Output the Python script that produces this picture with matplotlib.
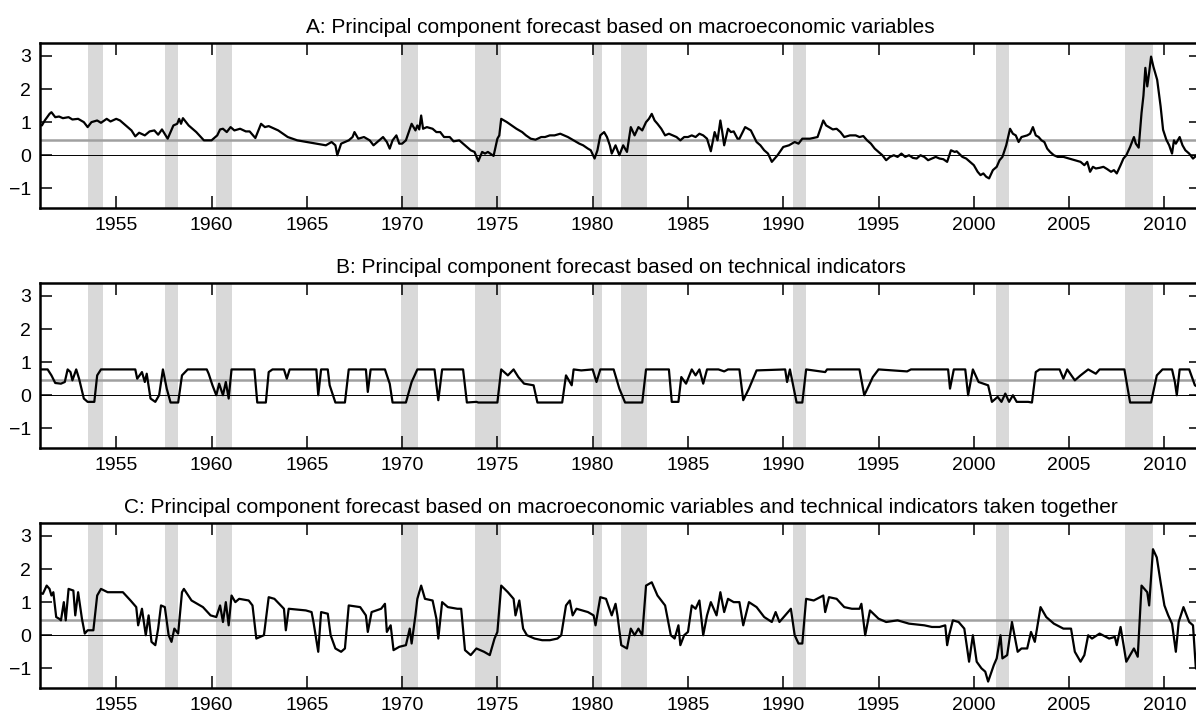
import numpy as np
import matplotlib.pyplot as plt

plt.rcParams['font.family'] = ['Liberation Sans', 'DejaVu Sans']

titles = [
    'A: Principal component forecast based on macroeconomic variables',
    'B: Principal component forecast based on technical indicators',
    'C: Principal component forecast based on macroeconomic variables and technical indicators taken together',
]

# NBER recessions (start, end) in decimal years
recessions = [(1953.5, 1954.33), (1957.58, 1958.25), (1960.25, 1961.08),
              (1969.92, 1970.83), (1973.83, 1975.17), (1980.0, 1980.5),
              (1981.5, 1982.83), (1990.5, 1991.17), (2001.17, 2001.83),
              (2007.92, 2009.42)]

hist_mean = 0.46

# Panel A: macroeconomic variables (year, forecast)
macro = [
    (1951.0, 0.92), (1951.1, 0.9), (1951.25, 1.05), (1951.5, 1.25), (1951.6, 1.3),
    (1951.8, 1.15), (1952.0, 1.17), (1952.2, 1.12), (1952.5, 1.15), (1952.7, 1.08),
    (1953.0, 1.1), (1953.3, 1.0), (1953.5, 0.85), (1953.7, 1.0), (1954.0, 1.05),
    (1954.2, 0.98), (1954.5, 1.1), (1954.7, 1.02), (1955.0, 1.1), (1955.2, 1.05),
    (1955.4, 0.95), (1955.6, 0.85), (1955.8, 0.75), (1956.0, 0.57), (1956.2, 0.68),
    (1956.5, 0.6), (1956.75, 0.72), (1957.0, 0.75), (1957.2, 0.62), (1957.4, 0.78),
    (1957.7, 0.5), (1958.0, 0.9), (1958.2, 0.95), (1958.3, 1.1), (1958.4, 0.95),
    (1958.5, 1.12), (1958.8, 0.9), (1959.2, 0.7), (1959.6, 0.45), (1960.0, 0.45),
    (1960.3, 0.6), (1960.45, 0.78), (1960.6, 0.8), (1960.8, 0.7), (1961.0, 0.85),
    (1961.2, 0.75), (1961.5, 0.8), (1961.8, 0.72), (1962.0, 0.72), (1962.3, 0.52),
    (1962.6, 0.95), (1962.8, 0.85), (1963.0, 0.88), (1963.5, 0.75), (1964.0, 0.55),
    (1964.5, 0.45), (1965.0, 0.4), (1965.5, 0.35), (1966.0, 0.3), (1966.3, 0.4),
    (1966.5, 0.3), (1966.6, 0.0), (1966.8, 0.35), (1967.0, 0.4), (1967.2, 0.45),
    (1967.4, 0.55), (1967.5, 0.7), (1967.7, 0.5), (1968.0, 0.55), (1968.3, 0.45),
    (1968.5, 0.3), (1968.8, 0.45), (1969.0, 0.55), (1969.2, 0.4), (1969.35, 0.2),
    (1969.5, 0.45), (1969.7, 0.6), (1969.85, 0.35), (1970.0, 0.35), (1970.2, 0.45),
    (1970.3, 0.62), (1970.5, 0.95), (1970.7, 0.75), (1970.8, 0.9), (1970.9, 0.78),
    (1971.0, 1.2), (1971.1, 0.8), (1971.3, 0.85), (1971.6, 0.8), (1971.8, 0.7),
    (1972.0, 0.7), (1972.2, 0.55), (1972.5, 0.55), (1972.7, 0.42), (1973.0, 0.45),
    (1973.3, 0.3), (1973.6, 0.15), (1973.8, 0.1), (1974.0, -0.18), (1974.2, 0.1),
    (1974.35, 0.05), (1974.5, 0.1), (1974.8, -0.02), (1975.0, 0.5), (1975.1, 0.6),
    (1975.2, 1.1), (1975.35, 1.05), (1975.5, 1.0), (1975.75, 0.9), (1976.0, 0.8),
    (1976.3, 0.7), (1976.5, 0.6), (1976.75, 0.5), (1977.0, 0.47), (1977.3, 0.55),
    (1977.5, 0.55), (1977.75, 0.6), (1978.0, 0.6), (1978.3, 0.65), (1978.5, 0.6),
    (1978.7, 0.55), (1979.0, 0.45), (1979.3, 0.35), (1979.5, 0.3), (1979.75, 0.2),
    (1979.9, 0.15), (1980.1, -0.1), (1980.25, 0.15), (1980.4, 0.6), (1980.6, 0.7),
    (1980.75, 0.55), (1980.9, 0.3), (1981.0, 0.05), (1981.2, 0.3), (1981.4, 0.0),
    (1981.6, 0.3), (1981.8, 0.1), (1982.0, 0.85), (1982.2, 0.6), (1982.4, 0.85),
    (1982.6, 0.75), (1982.8, 1.0), (1982.95, 1.1), (1983.1, 1.25), (1983.25, 1.05),
    (1983.4, 0.95), (1983.6, 0.8), (1983.8, 0.6), (1984.0, 0.65), (1984.2, 0.6),
    (1984.4, 0.55), (1984.6, 0.45), (1984.8, 0.55), (1985.0, 0.55), (1985.2, 0.6),
    (1985.4, 0.55), (1985.6, 0.65), (1985.8, 0.6), (1986.0, 0.5), (1986.2, 0.12),
    (1986.4, 0.7), (1986.55, 0.45), (1986.7, 1.05), (1986.8, 0.7), (1986.9, 0.3),
    (1987.1, 0.8), (1987.25, 0.7), (1987.4, 0.72), (1987.6, 0.5), (1987.7, 0.5),
    (1988.0, 0.85), (1988.3, 0.75), (1988.6, 0.4), (1988.8, 0.3), (1989.0, 0.15),
    (1989.2, 0.05), (1989.4, -0.2), (1989.7, 0.0), (1990.0, 0.25), (1990.3, 0.3),
    (1990.6, 0.4), (1990.8, 0.35), (1991.0, 0.5), (1991.4, 0.5), (1991.8, 0.55),
    (1992.1, 1.05), (1992.25, 0.9), (1992.4, 0.85), (1992.6, 0.78), (1992.8, 0.8),
    (1993.0, 0.7), (1993.2, 0.55), (1993.5, 0.6), (1993.8, 0.6), (1994.0, 0.55),
    (1994.2, 0.58), (1994.4, 0.45), (1994.6, 0.35), (1994.8, 0.2), (1995.0, 0.1),
    (1995.2, 0.0), (1995.4, -0.15), (1995.6, -0.05), (1995.8, 0.0), (1996.0, -0.05),
    (1996.2, 0.05), (1996.4, -0.05), (1996.6, 0.0), (1996.8, -0.08), (1997.0, -0.1),
    (1997.2, 0.0), (1997.4, -0.05), (1997.6, -0.15), (1997.8, -0.1), (1998.0, -0.05),
    (1998.2, -0.1), (1998.4, -0.12), (1998.6, -0.2), (1998.8, 0.15), (1999.0, 0.1),
    (1999.1, 0.12), (1999.4, -0.05), (1999.6, -0.1), (1999.8, -0.2), (2000.0, -0.3),
    (2000.2, -0.5), (2000.35, -0.6), (2000.5, -0.55), (2000.65, -0.65), (2000.8, -0.7),
    (2001.0, -0.45), (2001.2, -0.35), (2001.35, -0.15), (2001.5, -0.05), (2001.7, 0.3),
    (2001.9, 0.8), (2002.05, 0.65), (2002.2, 0.6), (2002.35, 0.4), (2002.5, 0.55),
    (2002.8, 0.6), (2002.95, 0.65), (2003.1, 0.85), (2003.25, 0.6), (2003.4, 0.55),
    (2003.55, 0.45), (2003.7, 0.4), (2003.85, 0.2), (2004.0, 0.1), (2004.2, 0.0),
    (2004.4, -0.05), (2004.7, -0.05), (2005.0, -0.1), (2005.3, -0.15), (2005.6, -0.2),
    (2005.8, -0.3), (2005.95, -0.2), (2006.1, -0.5), (2006.25, -0.35), (2006.4, -0.4),
    (2006.6, -0.38), (2006.8, -0.35), (2007.0, -0.42), (2007.2, -0.5), (2007.35, -0.45),
    (2007.5, -0.55), (2007.7, -0.3), (2007.85, -0.1), (2008.0, 0.0), (2008.2, 0.25),
    (2008.4, 0.55), (2008.5, 0.35), (2008.65, 0.23), (2008.8, 1.28), (2008.9, 1.8),
    (2009.0, 2.64), (2009.1, 2.08), (2009.2, 2.5), (2009.3, 2.98), (2009.42, 2.68),
    (2009.62, 2.28), (2009.8, 1.48), (2009.93, 0.77), (2010.1, 0.47), (2010.25, 0.3),
    (2010.4, 0.05), (2010.5, 0.45), (2010.6, 0.35), (2010.8, 0.55), (2010.95, 0.3),
    (2011.1, 0.15), (2011.3, 0.05), (2011.5, -0.1), (2011.7, 0.0), (2011.92, -0.18),
]

# Panel B: technical indicators
technical = [
    (1951.0, 0.78), (1951.4, 0.78), (1951.6, 0.6), (1951.8, 0.37), (1952.1, 0.35),
    (1952.3, 0.4), (1952.45, 0.78), (1952.6, 0.7), (1952.7, 0.45), (1952.9, 0.78),
    (1953.05, 0.5), (1953.3, -0.1), (1953.5, -0.2), (1953.85, -0.2), (1954.0, 0.6),
    (1954.2, 0.78), (1956.0, 0.78), (1956.1, 0.5), (1956.35, 0.7), (1956.5, 0.4),
    (1956.6, 0.65), (1956.8, -0.1), (1957.05, -0.2), (1957.25, 0.0), (1957.45, 0.78),
    (1957.65, 0.2), (1957.85, -0.22), (1958.25, -0.22), (1958.45, 0.6), (1958.75, 0.78),
    (1959.75, 0.78), (1959.85, 0.65), (1960.05, 0.3), (1960.25, 0.0), (1960.4, 0.35),
    (1960.6, 0.0), (1960.75, 0.4), (1960.9, -0.1), (1961.05, 0.78), (1962.25, 0.78),
    (1962.4, -0.22), (1962.85, -0.22), (1963.0, 0.7), (1963.2, 0.78), (1963.8, 0.78),
    (1963.95, 0.5), (1964.1, 0.78), (1965.5, 0.78), (1965.6, 0.0), (1965.75, 0.78),
    (1966.1, 0.78), (1966.2, 0.3), (1966.5, -0.22), (1967.0, -0.22), (1967.2, 0.78),
    (1968.1, 0.78), (1968.2, 0.1), (1968.35, 0.78), (1969.1, 0.78), (1969.35, 0.35),
    (1969.5, -0.22), (1970.2, -0.22), (1970.5, 0.4), (1970.8, 0.78), (1971.7, 0.78),
    (1971.9, -0.15), (1972.1, 0.78), (1973.2, 0.78), (1973.4, -0.22), (1973.9, -0.2),
    (1974.0, -0.22), (1975.0, -0.22), (1975.2, 0.78), (1975.55, 0.6), (1975.85, 0.78),
    (1976.1, 0.55), (1976.4, 0.35), (1976.9, 0.3), (1977.1, -0.22), (1978.4, -0.22),
    (1978.6, 0.6), (1978.9, 0.3), (1979.0, 0.78), (1979.4, 0.75), (1980.0, 0.78),
    (1980.2, 0.4), (1980.4, 0.78), (1981.1, 0.78), (1981.4, 0.2), (1981.7, -0.22),
    (1982.6, -0.22), (1982.8, 0.78), (1984.0, 0.78), (1984.15, -0.2), (1984.5, -0.2),
    (1984.65, 0.55), (1984.9, 0.35), (1985.2, 0.78), (1985.4, 0.6), (1985.6, 0.78),
    (1985.8, 0.35), (1986.0, 0.78), (1986.6, 0.78), (1986.9, 0.72), (1987.1, 0.78),
    (1987.7, 0.78), (1987.9, -0.15), (1988.2, 0.2), (1988.6, 0.75), (1990.1, 0.78),
    (1990.2, 0.4), (1990.35, 0.78), (1990.7, -0.22), (1991.0, -0.22), (1991.2, 0.78),
    (1992.2, 0.7), (1992.3, 0.78), (1994.0, 0.78), (1994.25, 0.0), (1994.5, 0.3),
    (1994.7, 0.55), (1995.0, 0.78), (1996.5, 0.72), (1996.7, 0.78), (1998.65, 0.78),
    (1998.75, 0.2), (1998.95, 0.78), (1999.55, 0.78), (1999.7, 0.0), (1999.95, 0.78),
    (2000.25, 0.4), (2000.75, 0.3), (2000.95, -0.2), (2001.25, -0.05), (2001.45, -0.2),
    (2001.65, 0.05), (2001.85, -0.2), (2002.05, 0.0), (2002.25, -0.2), (2002.85, -0.2),
    (2003.05, -0.22), (2003.25, 0.7), (2003.45, 0.78), (2004.5, 0.78), (2004.7, 0.5),
    (2004.9, 0.78), (2005.3, 0.45), (2005.6, 0.6), (2006.0, 0.78), (2006.4, 0.65),
    (2006.6, 0.78), (2007.9, 0.78), (2008.2, -0.22), (2009.3, -0.22), (2009.6, 0.6),
    (2009.9, 0.78), (2010.4, 0.78), (2010.55, 0.4), (2010.65, 0.0), (2010.8, 0.78),
    (2011.3, 0.78), (2011.6, 0.3), (2011.92, 0.2),
]

# Panel C: both sets taken together
combined = [
    (1951.0, 1.28), (1951.15, 1.25), (1951.35, 1.5), (1951.5, 1.4), (1951.6, 1.2),
    (1951.7, 1.3), (1951.85, 0.55), (1952.0, 0.5), (1952.1, 0.45), (1952.25, 1.0),
    (1952.35, 0.45), (1952.5, 1.4), (1952.75, 1.35), (1952.85, 0.6), (1953.0, 1.3),
    (1953.1, 0.9), (1953.2, 0.5), (1953.35, 0.05), (1953.5, 0.15), (1953.8, 0.15),
    (1954.0, 1.2), (1954.2, 1.4), (1954.55, 1.3), (1955.0, 1.3), (1955.35, 1.3),
    (1955.75, 1.05), (1956.05, 0.85), (1956.15, 0.3), (1956.35, 0.8), (1956.55, 0.0),
    (1956.7, 0.6), (1956.85, -0.2), (1957.05, -0.3), (1957.2, 0.2), (1957.35, 0.9),
    (1957.55, 0.85), (1957.75, 0.0), (1957.9, -0.2), (1958.05, 0.2), (1958.25, 0.05),
    (1958.45, 1.3), (1958.55, 1.4), (1958.95, 1.05), (1959.55, 0.85), (1959.95, 0.6),
    (1960.25, 0.55), (1960.45, 0.9), (1960.6, 0.4), (1960.75, 1.0), (1960.9, 0.3),
    (1961.05, 1.2), (1961.25, 1.0), (1961.45, 1.1), (1961.95, 1.05), (1962.15, 0.9),
    (1962.35, -0.1), (1962.75, 0.0), (1963.0, 1.15), (1963.3, 1.1), (1963.8, 0.8),
    (1963.9, 0.15), (1964.05, 0.8), (1964.95, 0.75), (1965.25, 0.7), (1965.35, 0.4),
    (1965.6, -0.5), (1965.75, 0.7), (1966.1, 0.65), (1966.25, 0.0), (1966.5, -0.4),
    (1966.8, -0.5), (1967.0, -0.4), (1967.2, 0.9), (1967.8, 0.85), (1968.1, 0.6),
    (1968.2, 0.1), (1968.4, 0.7), (1968.9, 0.8), (1969.1, 0.95), (1969.2, 0.1),
    (1969.4, 0.3), (1969.55, -0.45), (1969.85, -0.35), (1970.2, -0.3), (1970.4, 0.2),
    (1970.5, -0.25), (1970.7, 0.6), (1970.8, 1.1), (1971.0, 1.5), (1971.2, 1.1),
    (1971.6, 1.05), (1971.8, 0.5), (1971.9, -0.1), (1972.1, 1.0), (1972.4, 0.85),
    (1972.9, 0.8), (1973.1, 0.8), (1973.3, -0.45), (1973.6, -0.6), (1973.9, -0.4),
    (1974.3, -0.5), (1974.6, -0.6), (1974.85, -0.1), (1975.0, 0.1), (1975.2, 1.5),
    (1975.55, 1.3), (1975.85, 1.1), (1975.95, 0.6), (1976.15, 1.05), (1976.35, 0.2),
    (1976.55, 0.0), (1976.95, -0.1), (1977.35, -0.15), (1977.75, -0.15), (1978.15, -0.1),
    (1978.35, 0.0), (1978.6, 0.9), (1978.8, 1.05), (1978.95, 0.6), (1979.15, 0.8),
    (1979.75, 0.7), (1980.05, 0.6), (1980.15, 0.3), (1980.4, 1.15), (1980.7, 1.1),
    (1981.0, 0.6), (1981.2, 0.95), (1981.3, 0.6), (1981.5, -0.3), (1981.8, -0.4),
    (1982.0, 0.2), (1982.2, 0.0), (1982.4, 0.2), (1982.6, 0.0), (1982.8, 1.5),
    (1983.1, 1.6), (1983.4, 1.2), (1983.8, 0.9), (1984.1, 0.0), (1984.3, -0.1),
    (1984.5, 0.3), (1984.6, -0.3), (1984.8, 0.0), (1985.0, 0.1), (1985.2, 0.9),
    (1985.4, 0.8), (1985.6, 1.05), (1985.8, 0.0), (1986.0, 0.6), (1986.2, 1.0),
    (1986.5, 0.6), (1986.7, 1.3), (1986.9, 0.7), (1987.1, 1.1), (1987.4, 1.0),
    (1987.7, 1.0), (1987.9, 0.3), (1988.2, 1.0), (1988.6, 0.85), (1989.0, 0.55),
    (1989.4, 0.4), (1989.6, 0.7), (1989.8, 0.4), (1990.1, 0.6), (1990.4, 0.8),
    (1990.6, 0.0), (1990.8, -0.25), (1991.0, -0.25), (1991.2, 1.1), (1991.6, 1.05),
    (1992.1, 1.2), (1992.2, 0.7), (1992.4, 1.15), (1992.8, 1.1), (1993.2, 0.85),
    (1993.6, 0.8), (1994.0, 0.8), (1994.1, 0.95), (1994.3, 0.0), (1994.55, 0.75),
    (1995.0, 0.5), (1995.4, 0.4), (1996.0, 0.45), (1996.6, 0.35), (1997.4, 0.3),
    (1997.8, 0.25), (1998.2, 0.25), (1998.5, 0.3), (1998.6, -0.3), (1998.7, 0.0),
    (1998.9, 0.45), (1999.2, 0.4), (1999.5, 0.2), (1999.75, -0.8), (1999.95, 0.0),
    (2000.15, -0.8), (2000.4, -1.0), (2000.6, -1.1), (2000.75, -1.4), (2001.05, -0.9),
    (2001.2, -0.7), (2001.4, 0.0), (2001.5, -0.7), (2001.75, -0.6), (2002.0, 0.4),
    (2002.3, -0.5), (2002.5, -0.4), (2002.8, -0.4), (2003.0, 0.1), (2003.2, -0.2),
    (2003.5, 0.85), (2003.8, 0.55), (2004.2, 0.35), (2004.7, 0.2), (2005.1, 0.2),
    (2005.3, -0.5), (2005.6, -0.8), (2005.8, -0.6), (2006.0, 0.0), (2006.2, -0.1),
    (2006.6, 0.05), (2007.1, -0.1), (2007.4, -0.05), (2007.5, -0.3), (2007.7, 0.25),
    (2008.0, -0.8), (2008.2, -0.6), (2008.4, -0.4), (2008.6, -0.65), (2008.8, 1.5),
    (2009.1, 1.3), (2009.2, 0.9), (2009.4, 2.6), (2009.6, 2.35), (2009.8, 1.6),
    (2010.0, 0.9), (2010.2, 0.6), (2010.4, 0.35), (2010.6, -0.5), (2010.75, 0.4),
    (2011.0, 0.85), (2011.3, 0.4), (2011.5, 0.3), (2011.65, -1.0), (2011.92, -1.1),
]

series = [macro, technical, combined]

xticks = list(range(1955, 2011, 5))
yticks = [-1, 0, 1, 2, 3]

fig = plt.figure(figsize=(11.96, 7.14), dpi=100)
tops = [42.7, 282.7, 522.7]
for k, (title, pts) in enumerate(zip(titles, series)):
    top = tops[k]
    ax = fig.add_axes([40 / 1196, 1 - (top + 165.5) / 714, 1161 / 1196, 165.5 / 714])
    for s, e in recessions:
        ax.axvspan(s, e, color='#d9d9d9', lw=0, zorder=0)
    ax.axhline(hist_mean, color='#a0a0a0', lw=1.8, zorder=1)
    ax.axhline(0, color='black', lw=0.7, zorder=1)
    pts = np.array(pts)
    ax.plot(pts[:, 0], pts[:, 1], color='black', lw=1.6, zorder=2)
    ax.set_xlim(1951.0, 2011.92)
    ax.set_ylim(-1.6, 3.4)
    ax.set_xticks(xticks)
    ax.set_yticks(yticks)
    ax.set_yticklabels(['\u22121', '0', '1', '2', '3'])
    ax.tick_params(direction='in', length=8.5, width=1.1, labelsize=14,
                   top=True, right=True, pad=6.5)
    for side in ['top', 'bottom', 'left', 'right']:
        ax.spines[side].set_linewidth(1.8)
    ax.set_title(title, fontsize=15, pad=7)

plt.savefig('out.png', dpi=100)
